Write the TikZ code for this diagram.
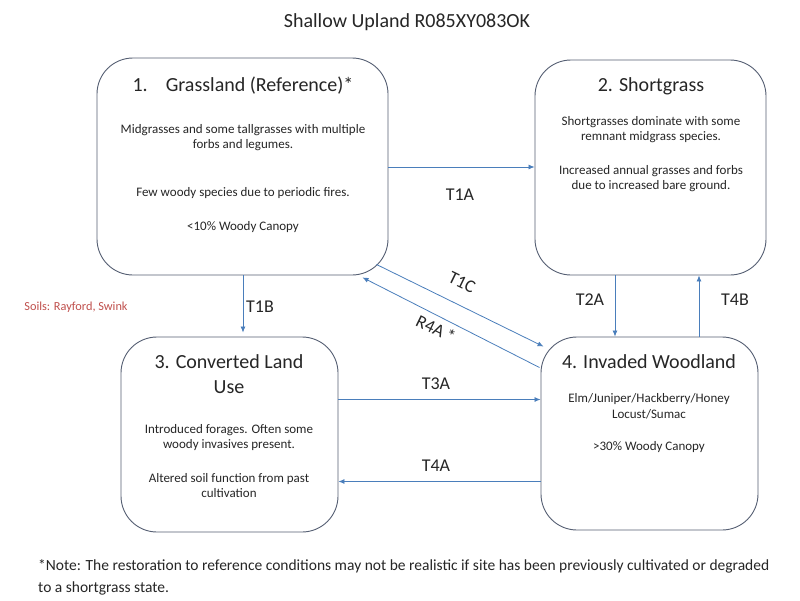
\documentclass[tikz,border=0pt]{standalone}
\usepackage{fontspec}
\setmainfont{Carlito}
\usetikzlibrary{calc,arrows.meta}
\definecolor{linec}{RGB}{74,126,187}
\definecolor{boxc}{RGB}{85,95,115}
\definecolor{soilc}{RGB}{192,80,77}
\begin{document}
\begin{tikzpicture}[x=1pt,y=-1pt,
  statebox/.style={draw=boxc,line width=0.9pt,rounded corners=36pt,fill=white,inner sep=0pt},
  ttl/.style={font=\fontsize{20}{25}\selectfont,text=black!85,align=center,inner sep=0pt},
  body/.style={font=\fontsize{13}{15.5}\selectfont,text=black!85,align=center,inner sep=0pt},
  lbl/.style={font=\fontsize{18}{20}\selectfont,text=black!85,inner sep=0pt},
  arr/.style={draw=linec,line width=0.8pt,-{Latex[length=6pt,width=5pt]}}]
\useasboundingbox[fill=white] (0,0) rectangle (800,600);
\node[font=\fontsize{20}{24}\selectfont,text=black!85] (title) at (407,22) {Shallow Upland R085XY083OK};
% boxes
\node[statebox,minimum width=291pt,minimum height=217pt] (b1) at (242.5,166.5) {};
\node[statebox,minimum width=231pt,minimum height=215pt] (b2) at (650.5,167.5) {};
\node[statebox,minimum width=217pt,minimum height=195pt] (b3) at (229.5,434.5) {};
\node[statebox,minimum width=217pt,minimum height=193pt] (b4) at (649.5,433.5) {};
% box 1 text
\node[ttl] (t1) at (243,86) {1.\hspace{0.9em}Grassland (Reference)*};
\node[body] (d1a) at (243,137.5) {Midgrasses and some tallgrasses with multiple\\forbs and legumes.};
\node[body] (d1b) at (243,193) {Few woody\ species due to periodic fires.};
\node[body] (d1c) at (243,227) {<10\% Woody\ Canopy};
% box 2 text
\node[ttl] (t2) at (651,86) {2. Shortgrass};
\node[body] (d2a) at (651,129.5) {Shortgrasses dominate with some\\remnant midgrass species.};
\node[body] (d2b) at (651,178.5) {Increased annual grasses and forbs\\due to increased bare ground.};
% box 3 text
\node[ttl] (t3) at (229,374.5) {3. Converted Land\\Use};
\node[body] (d3a) at (229,437.5) {Introduced\ forages. Often some\\woody\ invasives present.};
\node[body] (d3b) at (229,485.5) {Altered soil function from past\\cultivation};
% box 4 text
\node[ttl] (t4) at (649,362) {4. Invaded Woodland};
\node[body] (d4a) at (649,406.5) {Elm/Juniper/Hackberry/Honey\\Locust/Sumac};
\node[body] (d4b) at (649,447) {>30\% Woody\ Canopy};
% soils
\node[font=\fontsize{12.3}{14}\selectfont,text=soilc,inner sep=0pt] (soil) at (76,307) {Soils: Rayford, Swink};
% connector end points
\coordinate (p1bs) at ($(b1.south)+(0.5,0)$);
\coordinate (p3n) at ($(b3.north)+(0,-4)$);
\coordinate (p2s) at ($(b2.south)+(-35.5,0)$);
\coordinate (p4n) at ($(b4.north)+(49.5,0)$);
% connectors
\draw[arr] ($(b1.east)+(0,0.5)$) -- ($(b2.west)+(0,-0.5)$);
\node[lbl] (l1a) at (460,195) {T1A};
\draw[arr] (p1bs) -- (p1bs |- p3n);
\node[lbl] (l1b) at (260,307) {T1B};
\draw[arr] ($(b1.south east)+(-12,-11)$) -- ($(b4.north west)+(3,10)$);
\node[lbl,rotate=-26] (l1c) at (462,282) {T1C};
\draw[arr] ($(b4.north west)+(-1,31)$) -- ($(b1.south east)+(-26,2)$);
\node[lbl,rotate=-26] (r4a) at (436,329) {R4A\,*};
\draw[arr] (p2s) -- (p2s |- b4.north);
\node[lbl] (l2a) at (590,300) {T2A};
\draw[arr] (p4n) -- (p4n |- b2.south);
\node[lbl] (l4b) at (735,300) {T4B};
\draw[arr] ($(b3.east)+(0,-35)$) -- ($(b4.west)+(0,-34)$);
\node[lbl] (l3a) at (436,384) {T3A};
\draw[arr] ($(b4.west)+(0,48)$) -- ($(b3.east)+(0,47)$);
\node[lbl] (l4a) at (436,466) {T4A};
% note
\node[font=\fontsize{15.5}{22}\selectfont,text=black!85,align=left,anchor=north west,inner sep=0pt] (note) at (38,559) {*Note: The restoration to reference conditions may not be realistic if site has been previously cultivated or degraded\\to a shortgrass state.};
\end{tikzpicture}
\end{document}
